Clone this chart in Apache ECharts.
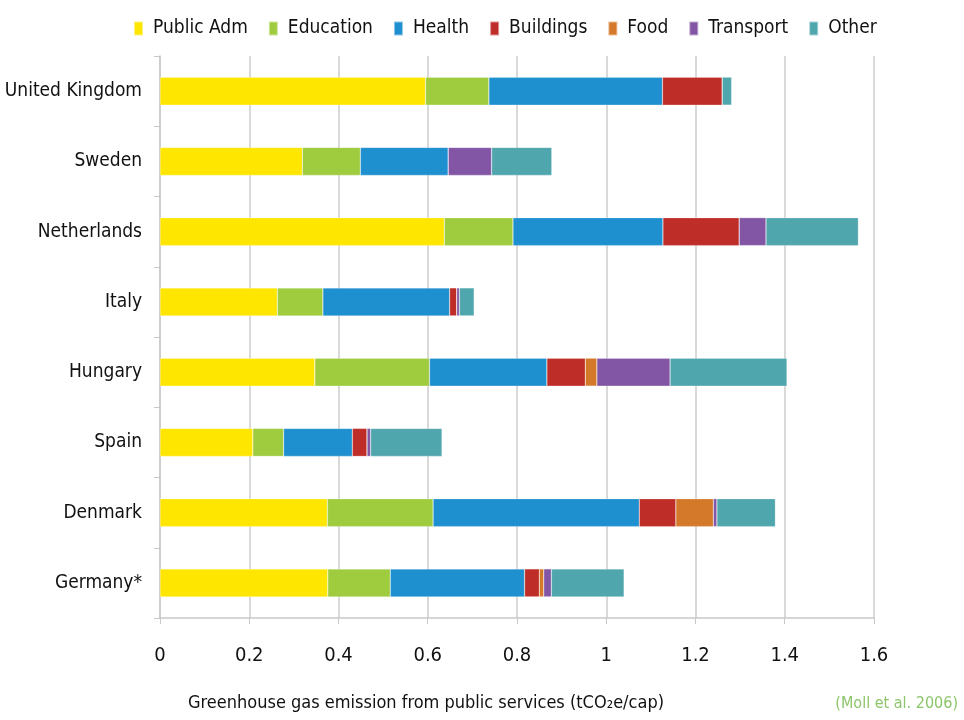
<!DOCTYPE html>
<html>
<head>
<meta charset="utf-8">
<script src="https://cdn.jsdelivr.net/npm/echarts@6/dist/echarts.min.js"></script>
<style>
  html, body { margin: 0; padding: 0; background: #fff; }
  #chart { width: 964px; height: 720px; }
</style>
</head>
<body>
<div id="chart"></div>
<script>
// countries, bottom to top
const countries = ['Germany*', 'Denmark', 'Spain', 'Hungary', 'Italy', 'Netherlands', 'Sweden', 'United Kingdom']

const publicAdm = [0.376, 0.375, 0.208, 0.347, 0.263, 0.637, 0.319, 0.595]
const education = [0.140, 0.237, 0.069, 0.257, 0.102, 0.154, 0.130, 0.142]
const health = [0.301, 0.462, 0.154, 0.263, 0.284, 0.336, 0.197, 0.389]
const buildings = [0.033, 0.082, 0.033, 0.086, 0.016, 0.171, 0, 0.134]
const food = [0.010, 0.084, 0, 0.026, 0, 0, 0, 0]
const transport = [0.017, 0.008, 0.008, 0.164, 0.006, 0.060, 0.097, 0]
const other = [0.163, 0.131, 0.160, 0.262, 0.033, 0.207, 0.135, 0.021]

const xTicks = [0, 0.2, 0.4, 0.6, 0.8, 1, 1.2, 1.4, 1.6]

const font = '"DejaVu Sans Condensed", "Liberation Sans Narrow", sans-serif'

const seriesDefs = [
  { name: 'Public Adm', data: publicAdm, color: '#ffe600' },
  { name: 'Education', data: education, color: '#9ecc3e' },
  { name: 'Health', data: health, color: '#1e8fcf' },
  { name: 'Buildings', data: buildings, color: '#be2d27' },
  { name: 'Food', data: food, color: '#d4782a' },
  { name: 'Transport', data: transport, color: '#8356a5' },
  { name: 'Other', data: other, color: '#50a6ad' }
]

let chart = echarts.init(document.getElementById('chart'))
let option = {
  animation: false,
  color: seriesDefs.map(s => s.color),
  legend: {
    top: 14,
    left: 128,
    itemWidth: 9,
    itemHeight: 14,
    itemGap: 20,
    icon: 'rect',
    textStyle: { fontFamily: font, fontSize: 19, color: '#111', padding: [0, 0, 0, 5] },
    data: seriesDefs.map(s => s.name)
  },
  grid: {
    left: 160,
    right: 90,
    top: 56,
    bottom: 102,
    containLabel: false,
    outerBoundsMode: 'none'
  },
  xAxis: {
    type: 'value',
    min: 0,
    max: 1.6,
    interval: 0.2,
    axisLine: { show: true, lineStyle: { color: '#c8c8c8', width: 1.5 } },
    axisTick: { show: true, length: 6, lineStyle: { color: '#c8c8c8' } },
    splitLine: { show: true, lineStyle: { color: '#d9d9d9', width: 2 } },
    axisLabel: {
      margin: 28,
      fontFamily: font,
      fontSize: 20,
      color: '#111',
      formatter: v => {
        let t = xTicks.find(x => Math.abs(x - v) < 1e-6)
        return t === undefined ? '' : String(t)
      }
    }
  },
  yAxis: {
    type: 'category',
    data: countries,
    axisLine: { show: true, lineStyle: { color: '#c8c8c8', width: 1.5 } },
    axisTick: { show: true, length: 6, lineStyle: { color: '#c8c8c8' } },
    axisLabel: { margin: 18, fontFamily: font, fontSize: 19, color: '#111' }
  },
  graphic: [
    {
      type: 'text',
      left: 188,
      top: 694,
      style: {
        text: 'Greenhouse gas emission from public services (tCO\u2082e/cap)',
        font: '18px ' + font,
        fill: '#111'
      }
    },
    {
      type: 'text',
      right: 6,
      top: 696,
      style: {
        text: '(Moll et al. 2006)',
        font: '16px ' + font,
        fill: '#8cc56a'
      }
    }
  ],
  series: seriesDefs.map(s => ({
    name: s.name,
    type: 'bar',
    stack: 'total',
    barWidth: 28,
    data: s.data,
    itemStyle: { color: s.color, borderColor: 'rgba(255,255,255,0.5)', borderWidth: 0.5 }
  }))
}
chart.setOption(option)
</script>
</body>
</html>
